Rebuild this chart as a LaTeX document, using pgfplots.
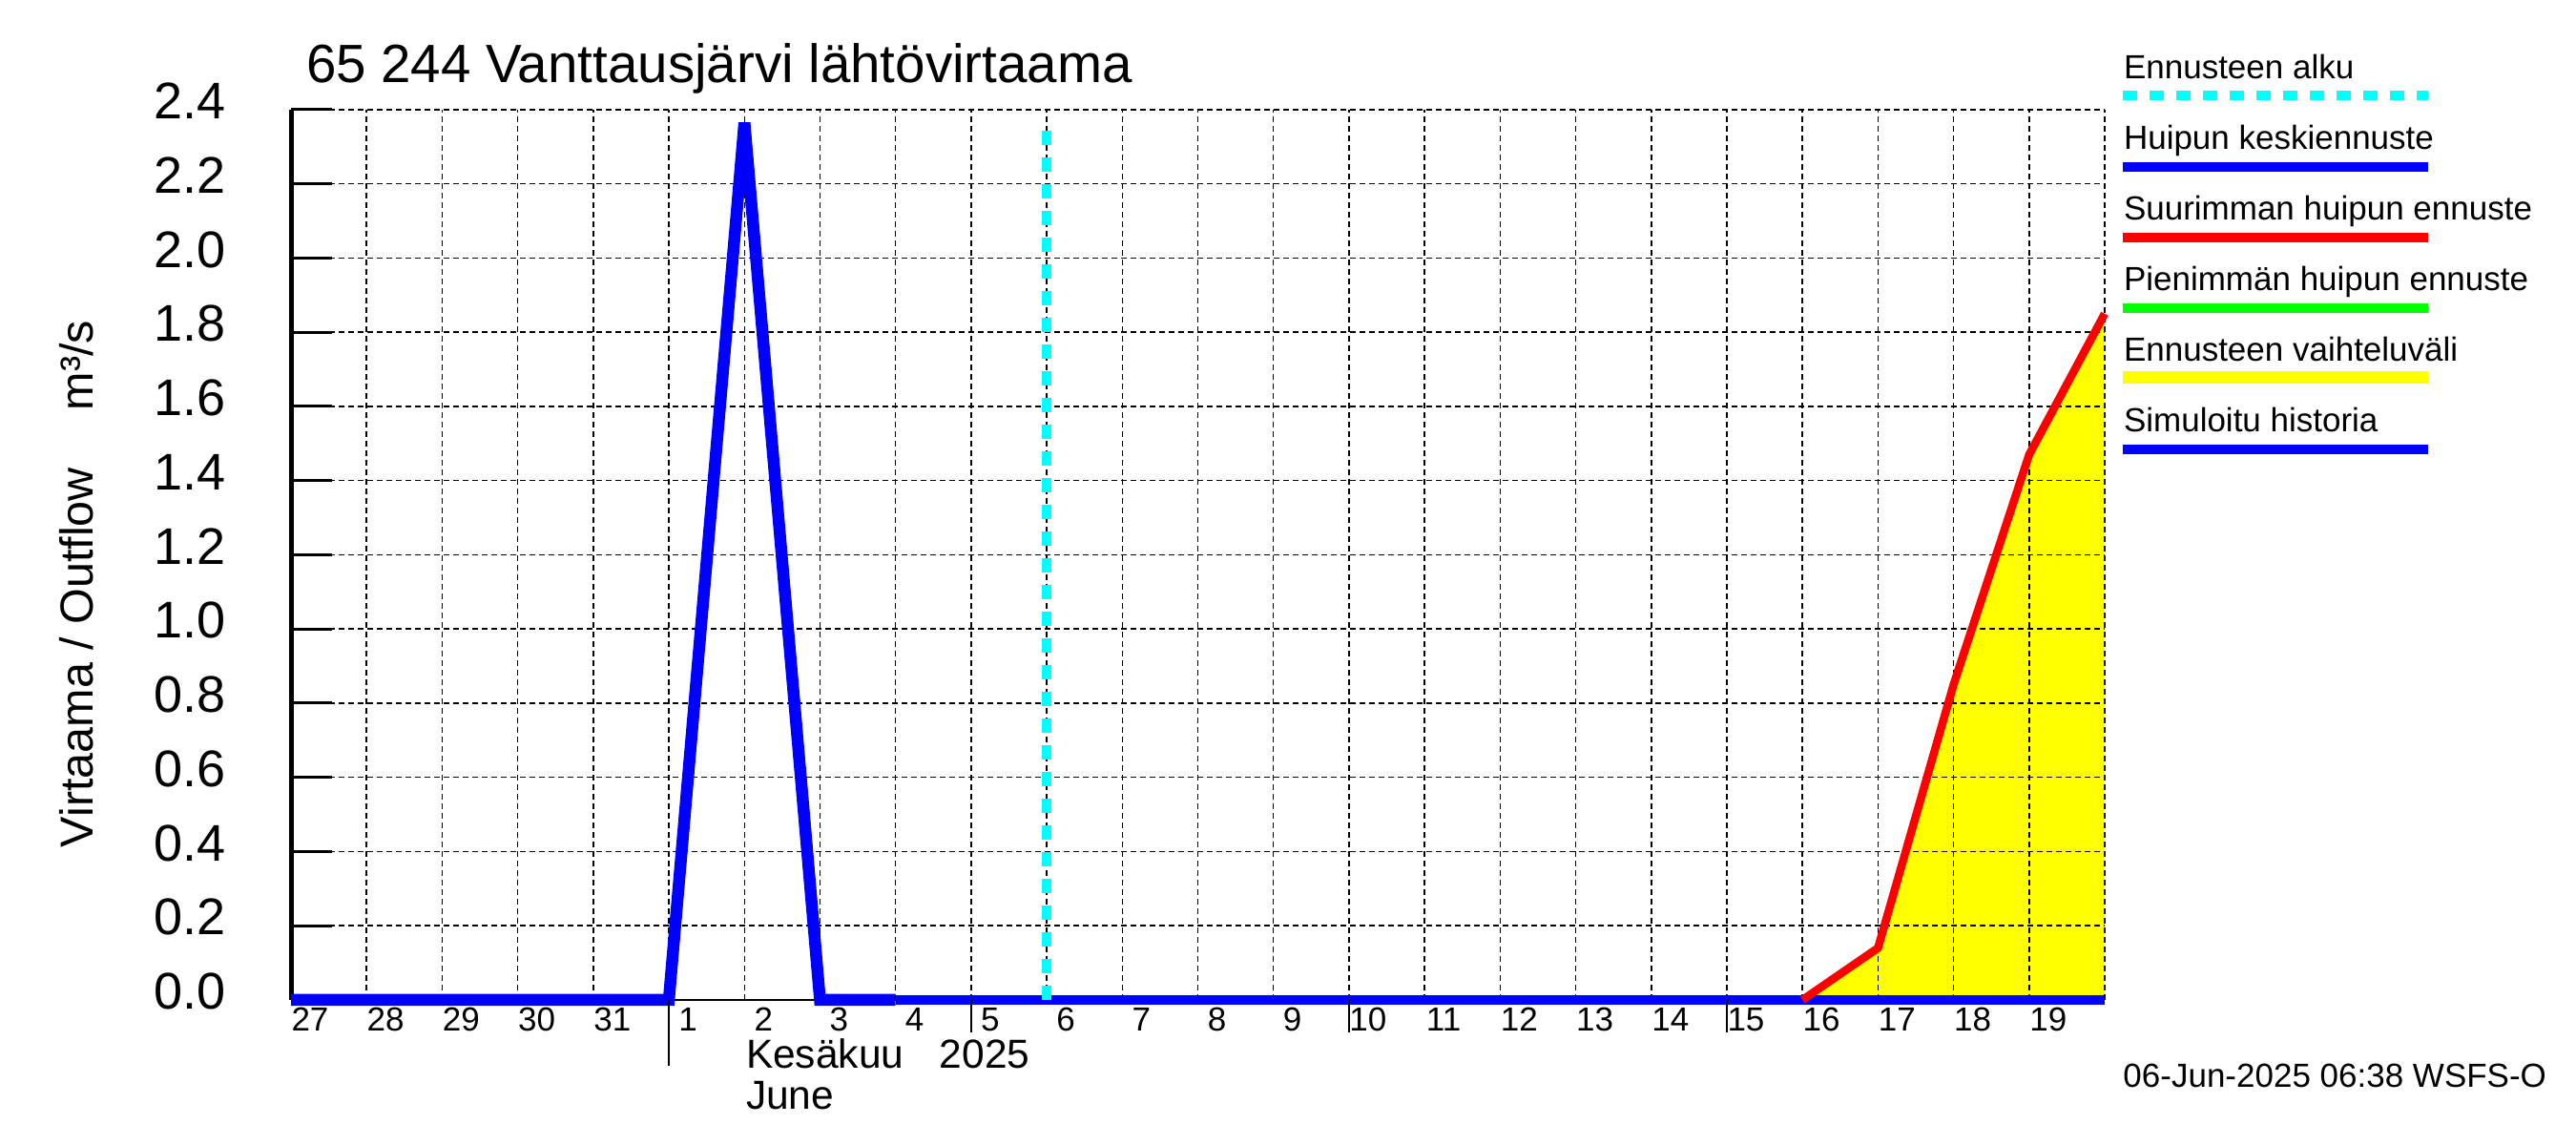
\documentclass[border=0pt]{standalone}
\usepackage{fontspec}
\setmainfont{Liberation Sans}
\usepackage{pgfplots}
\pgfplotsset{compat=1.18}
\definecolor{hblue}{RGB}{0,0,255}
\definecolor{hred}{RGB}{255,0,0}
\definecolor{hgreen}{RGB}{0,255,0}
\definecolor{hcyan}{RGB}{0,255,255}
\definecolor{hyellow}{RGB}{255,255,0}
\begin{document}
\begin{tikzpicture}
\path (0,0) rectangle (540pt,240pt);
\begin{axis}[
  set layers,
  at={(61pt,30.4pt)}, anchor=south west,
  scale only axis, width=380.2pt, height=186.6pt,
  xmin=0, xmax=24, ymin=0, ymax=2.4,
  clip=false,
  axis x line*=bottom, axis y line*=left,
  x axis line style={-, line width=0.5pt, black},
  y axis line style={-, line width=1pt, black},
  xtick={0,...,24},
  xticklabels={27,28,29,30,31,1,2,3,4,5,6,7,8,9,10,11,12,13,14,15,16,17,18,19,{}},
  xtick style={draw=none},
  xticklabel style={font=\fontsize{7}{8}\selectfont, anchor=base, inner sep=0pt, xshift=4pt, yshift=-6.6pt},
  ytick={0,0.2,0.4,0.6,0.8,1.0,1.2,1.4,1.6,1.8,2.0,2.2,2.4},
  yticklabels={0.0,0.2,0.4,0.6,0.8,1.0,1.2,1.4,1.6,1.8,2.0,2.2,2.4},
  yticklabel style={font=\fontsize{10.8}{12}\selectfont, anchor=east, inner sep=0pt, xshift=-13.4pt, yshift=1.8pt},
  tick align=inside,
  major tick length=8.6pt,
  ytick style={line width=0.6pt, black},
  grid=major,
  x grid style={black, line width=0.3pt, dash pattern=on 1.2pt off 0.8pt},
  y grid style={black, line width=0.3pt, dash pattern=on 1.2pt off 0.8pt},
]
% Ennusteen vaihteluvali
\addplot[fill=hyellow, draw=none, on layer=axis background] coordinates {
  (20,0) (21,0.14) (22,0.85) (23,1.47) (24,1.85) (24,0)
} \closedcycle;
% Pienimman huipun ennuste
\addplot[hgreen, line width=2pt] coordinates {(10,0) (24,0)};
% Simuloitu historia
\addplot[hblue, line width=2.5pt] coordinates {
  (0,0) (1,0) (2,0) (3,0) (4,0) (5,0) (6,2.365) (7,0) (8,0)
};
% Huipun keskiennuste
\addplot[hblue, line width=2pt] coordinates {(8,0) (12,0) (16,0) (20,0) (24,0)};
% Suurimman huipun ennuste
\addplot[hred, line width=1.7pt] coordinates {
  (20,0) (21,0.14) (22,0.85) (23,1.47) (24,1.85)
};
% Ennusteen alku
\addplot[hcyan, line width=2pt, dash pattern=on 3pt off 2.6pt] coordinates {(10,0) (10,2.37)};
% month and week ticks below the axis
\draw[black, line width=0.3pt] (axis cs:5,0) -- ++(0,-13.8pt);
\draw[black, line width=0.3pt] (axis cs:9,0) -- ++(0,-6.8pt);
\draw[black, line width=0.3pt] (axis cs:14,0) -- ++(0,-6.8pt);
\draw[black, line width=0.3pt] (axis cs:19,0) -- ++(0,-6.8pt);
\end{axis}
% title and labels
\node[anchor=base west, inner sep=0pt, font=\fontsize{11.3}{13}\selectfont] at (64pt,222.6pt) {65 244 Vanttausjärvi lähtövirtaama};
\node[rotate=90, inner sep=0pt, font=\fontsize{9.7}{11}\selectfont] at (16pt,117.6pt) {Virtaama / Outflow\hspace{12pt}m³/s};
\node[anchor=base west, inner sep=0pt, font=\fontsize{8.5}{9}\selectfont] at (156.2pt,16pt) {Kesäkuu\hspace{7.5pt}2025};
\node[anchor=base west, inner sep=0pt, font=\fontsize{8.5}{9}\selectfont] at (156.2pt,7.4pt) {June};
\node[anchor=base east, inner sep=0pt, font=\fontsize{7}{8}\selectfont] at (534pt,12pt) {06-Jun-2025 06:38 WSFS-O};
% legend
\begin{scope}[every node/.style={anchor=base west, inner sep=0pt, font=\fontsize{7}{8}\selectfont}]
\node at (445pt,223.4pt) {Ennusteen alku};
\draw[hcyan, line width=2pt, dash pattern=on 3pt off 2.6pt] (445pt,220pt) -- (509pt,220pt);
\node at (445pt,208.6pt) {Huipun keskiennuste};
\draw[hblue, line width=2pt] (445pt,205pt) -- (509pt,205pt);
\node at (445pt,193.8pt) {Suurimman huipun ennuste};
\draw[hred, line width=2pt] (445pt,190.2pt) -- (509pt,190.2pt);
\node at (445pt,179pt) {Pienimmän huipun ennuste};
\draw[hgreen, line width=2pt] (445pt,175.4pt) -- (509pt,175.4pt);
\node at (445pt,164.2pt) {Ennusteen vaihteluväli};
\draw[hyellow, line width=2.6pt] (445pt,160.8pt) -- (509pt,160.8pt);
\node at (445pt,149.4pt) {Simuloitu historia};
\draw[hblue, line width=2pt] (445pt,145.8pt) -- (509pt,145.8pt);
\end{scope}
\end{tikzpicture}
\end{document}
